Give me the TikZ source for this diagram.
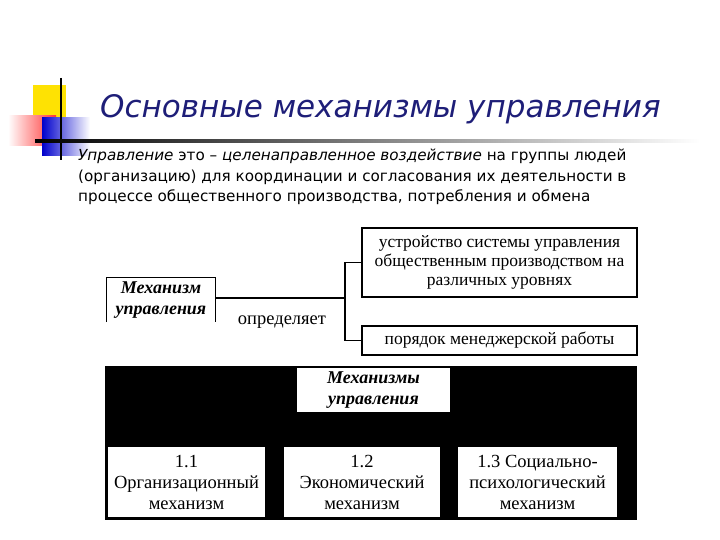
\documentclass[tikz,border=0pt]{standalone}
\usepackage{fontspec}
\setmainfont{Liberation Serif}
\newfontfamily\bodyfont{DejaVu Sans}
\definecolor{navy}{RGB}{30,30,120}
\begin{document}
\begin{tikzpicture}[x=1pt,y=-1pt,
  bx/.style={draw=black,line width=1.2pt,fill=white,align=center,inner sep=0pt,font=\fontsize{17.5}{19}\selectfont},
  wb/.style={fill=white,align=center,inner sep=0pt,font=\fontsize{18.5}{21}\selectfont}]
\useasboundingbox (0,0) rectangle (720,540);
% decoration
\fill[yellow!85!orange] (33,85) rectangle (66,121);
\shade[left color=white,right color=red!80] (8,116) rectangle (56,146);
\shade[left color=blue!80!black,right color=white] (42,118) rectangle (90,156);
\draw[line width=1.5pt] (61,78) -- (61,160);
\shade[left color=black,right color=white] (35,140) rectangle (700,142.5);
\node[anchor=base west,text=navy,font=\bodyfont\itshape\fontsize{31}{32}\selectfont,inner sep=0] (title) at (100,118) {Основные механизмы управления};
\node[anchor=north west,align=left,inner sep=0,font=\bodyfont\fontsize{15.2}{20.5}\selectfont] (body) at (78,149)
 {\textit{Управление} это – \textit{целенаправленное воздействие} на группы людей\\(организацию) для координации и согласования их деятельности в\\процессе общественного производства, потребления и обмена};
% upper diagram
\node[wb,minimum width=108,minimum height=44,font=\bfseries\itshape\fontsize{18}{21}\selectfont] (mech) at (161,300) {Механизм\\управления};
\draw[line width=1.2pt] (mech.south west) -- (mech.north west) -- (mech.north east) -- (mech.south east);
\node[bx,minimum width=275,minimum height=69] (b1) at (499.5,262.5) {устройство системы управления\\общественным производством на\\различных уровнях};
\node[bx,minimum width=275,minimum height=29] (b2) at (499.5,340.5) {порядок менеджерской работы};
\coordinate (fork) at (345,298);
\draw[line width=1.2pt] (mech.east |- fork) -- (fork);
\draw[line width=1.2pt] (b1.west) -| (fork) |- (b2.west);
\node[font=\fontsize{18.5}{20}\selectfont] (def) at (282,322) {определяет};
% lower diagram
\fill[black] (105,366) rectangle (637,520);
\node[wb,minimum width=153,minimum height=44,font=\bfseries\itshape\fontsize{18}{21}\selectfont] (top) at (373.5,390) {Механизмы\\управления};
\node[wb,minimum width=157,minimum height=70] (m1) at (186.5,482) {1.1\\Организационный\\механизм};
\node[wb,minimum width=156,minimum height=70] (m2) at (362,482) {1.2\\Экономический\\механизм};
\node[wb,minimum width=159,minimum height=70] (m3) at (537.5,482) {1.3 Социально-\\психологический\\механизм};
\end{tikzpicture}
\end{document}
